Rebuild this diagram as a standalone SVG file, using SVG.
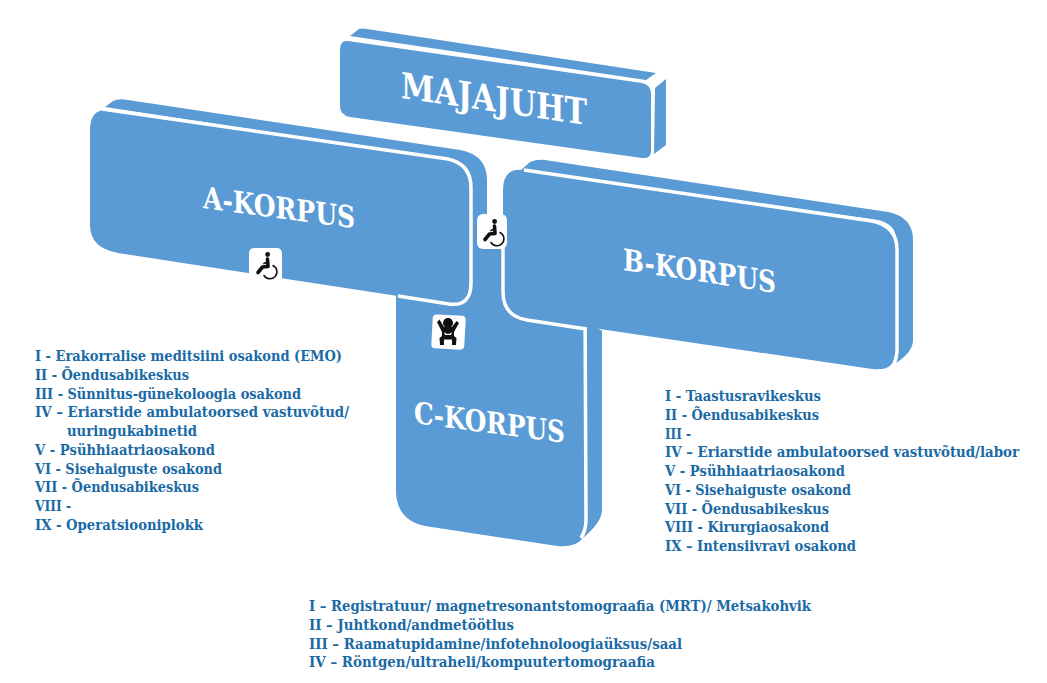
<svg xmlns="http://www.w3.org/2000/svg" width="1047" height="683" viewBox="0 0 1047 683">
<style>
.b{fill:#5b9bd5}
.w{fill:none;stroke:#fff;stroke-width:3.5}
.t{font-family:"DejaVu Serif Condensed","Liberation Serif",serif;font-weight:bold;fill:#fff}
.l{font-family:"DejaVu Serif Condensed","Liberation Serif",serif;font-weight:bold;font-size:14.8px;fill:#1a6aa6}
.tile{fill:#fff}
.k{fill:#111}
.ks{fill:none;stroke:#111;stroke-linecap:round;stroke-linejoin:round}
</style>
<defs>
<g id="wheel">
<circle class="k" cx="2.6" cy="-10.5" r="2.4"/>
<path class="ks" stroke-width="3.6" d="M2.500-6L3 1.500L-2.500 2L-7 7.500"/>
<path class="ks" stroke-width="1.8" d="M2.500-3L-1-1.500"/>
<path class="ks" stroke-width="1.5" d="M8 0.500A7 7 0 1 1-1 10.500"/>
</g>
<g id="baby">
<circle class="k" cx="0" cy="-8" r="5"/>
<path class="k" d="M-11-9L-8.500-11.500L-4-4L4-4L8.500-10L11-8L6 1L6 5L8.500 7L8 14L4 14L4 8.500L-4 8.500L-4 14L-8 14L-8.500 7L-6 5L-6 1Z"/>
<path d="M-4 1Q0 5 4 1L3 4L-3 4Z" fill="#fff"/>
</g>
</defs>

<g id="connectors"></g>

<g id="majajuht">
<path class="b" d="M350 36L359 29Q362 28 367 29L656 73L646 80Z"/>
<path class="b" d="M655 88L666 79L666 145L654 154Z"/>
<path class="b" d="M348 41L642 83Q651 85 651 94L651 151Q651 159 642 158L350 117Q340 115 340 106L340 50Q340 40 348 41Z"/>
<text class="t" font-size="36" transform="translate(401 98) skewY(8.3)" textLength="186" lengthAdjust="spacingAndGlyphs">MAJAJUHT</text>
</g>

<g id="c-korpus">
<path class="b" d="M396 290L470 230L545 243Q585 250 587 295L587 322L602 331L602 510Q602 522 583 538Q575 548 557 546L425 526Q396 520 396 490Z"/>
<path class="w" d="M472 235L545 247Q585 255 585 300L586 520Q586 530 581 538"/>
<text class="t" font-size="30" transform="translate(414 423) skewY(7.5)" textLength="151" lengthAdjust="spacingAndGlyphs">C-KORPUS</text>
</g>

<g id="b-korpus">
<path class="b" d="M520 171L530 162Q537 159 545 160L888 212Q913 217 913 240L913 340Q913 352 896 363L896 240Q896 224 878 220Z"/>
<path class="b" d="M522 170L872 222Q896 226 896 248L896 350Q896 372 872 369L525 318Q503 314 503 290L503 190Q503 168 522 170Z"/>
<path class="w" d="M524 170L872 221Q897 226 897 250L897 350Q897 356 894 364"/>
<path class="w" d="M503 245L503 292Q503 316 527 320L586 329"/>
<text class="t" font-size="30" transform="translate(623 270) skewY(8.5)" textLength="153" lengthAdjust="spacingAndGlyphs">B-KORPUS</text>
</g>

<g id="a-korpus">
<path class="b" d="M105 107L113 101Q119 98 128 100L460 150Q487 155 487 180L487 240L470 240L470 190Q470 165 452 160Z"/>
<path class="b" d="M110 110L448 160Q470 164 470 188L470 285Q470 307 450 304L118 253Q90 248 90 225L90 130Q90 108 110 110Z"/>
<path class="w" d="M102 109L448 159Q471 164 471 188L471 283Q471 307 449 304L398 296"/>
<text class="t" font-size="30" transform="translate(203 208) skewY(7.6)" textLength="152" lengthAdjust="spacingAndGlyphs">A-KORPUS</text>
</g>

<g id="icon-a">
<rect class="tile" x="249" y="248" width="33" height="34" rx="5"/>
<use href="#wheel" transform="translate(265 265)"/>
</g>
<g id="icon-center">
<rect class="tile" x="477" y="214" width="30" height="35" rx="6"/>
<use href="#wheel" transform="translate(492 232)"/>
</g>
<g id="icon-baby">
<rect class="tile" x="432" y="315" width="33" height="34" rx="4" transform="rotate(3 448 332)"/>
<use href="#baby" transform="translate(448 331)"/>
</g>

<g id="list-a">
<text class="l" lengthAdjust="spacingAndGlyphs" x="35" y="361" textLength="307">I - Erakorralise meditsiini osakond (EMO)</text>
<text class="l" lengthAdjust="spacingAndGlyphs" x="35" y="380" textLength="154">II - Õendusabikeskus</text>
<text class="l" lengthAdjust="spacingAndGlyphs" x="35" y="399" textLength="266">III - Sünnitus-günekoloogia osakond</text>
<text class="l" lengthAdjust="spacingAndGlyphs" x="35" y="417" textLength="314">IV – Eriarstide ambulatoorsed vastuvõtud/</text>
<text class="l" lengthAdjust="spacingAndGlyphs" x="67" y="436" textLength="130">uuringukabinetid</text>
<text class="l" lengthAdjust="spacingAndGlyphs" x="35" y="455" textLength="180">V - Psühhiaatriaosakond</text>
<text class="l" lengthAdjust="spacingAndGlyphs" x="35" y="474" textLength="187">VI - Sisehaiguste osakond</text>
<text class="l" lengthAdjust="spacingAndGlyphs" x="35" y="492" textLength="164">VII - Õendusabikeskus</text>
<text class="l" lengthAdjust="spacingAndGlyphs" x="35" y="511" textLength="36">VIII -</text>
<text class="l" lengthAdjust="spacingAndGlyphs" x="35" y="530" textLength="168">IX - Operatsiooniplokk</text>
</g>
<g id="list-b">
<text class="l" lengthAdjust="spacingAndGlyphs" x="665" y="401" textLength="156">I - Taastusravikeskus</text>
<text class="l" lengthAdjust="spacingAndGlyphs" x="665" y="420" textLength="154">II - Õendusabikeskus</text>
<text class="l" lengthAdjust="spacingAndGlyphs" x="665" y="439" textLength="26">III -</text>
<text class="l" lengthAdjust="spacingAndGlyphs" x="665" y="457" textLength="354">IV – Eriarstide ambulatoorsed vastuvõtud/labor</text>
<text class="l" lengthAdjust="spacingAndGlyphs" x="665" y="476" textLength="180">V - Psühhiaatriaosakond</text>
<text class="l" lengthAdjust="spacingAndGlyphs" x="665" y="495" textLength="186">VI - Sisehaiguste osakond</text>
<text class="l" lengthAdjust="spacingAndGlyphs" x="665" y="514" textLength="164">VII - Õendusabikeskus</text>
<text class="l" lengthAdjust="spacingAndGlyphs" x="665" y="532" textLength="164">VIII - Kirurgiaosakond</text>
<text class="l" lengthAdjust="spacingAndGlyphs" x="665" y="551" textLength="191">IX – Intensiivravi osakond</text>
</g>
<g id="list-c">
<text class="l" lengthAdjust="spacingAndGlyphs" x="309" y="611" textLength="502">I – Registratuur/ magnetresonantstomograafia (MRT)/ Metsakohvik</text>
<text class="l" lengthAdjust="spacingAndGlyphs" x="309" y="630" textLength="205">II – Juhtkond/andmetöötlus</text>
<text class="l" lengthAdjust="spacingAndGlyphs" x="309" y="649" textLength="373">III – Raamatupidamine/infotehnoloogiaüksus/saal</text>
<text class="l" lengthAdjust="spacingAndGlyphs" x="309" y="667" textLength="346">IV – Röntgen/ultraheli/kompuutertomograafia</text>
</g>
</svg>
